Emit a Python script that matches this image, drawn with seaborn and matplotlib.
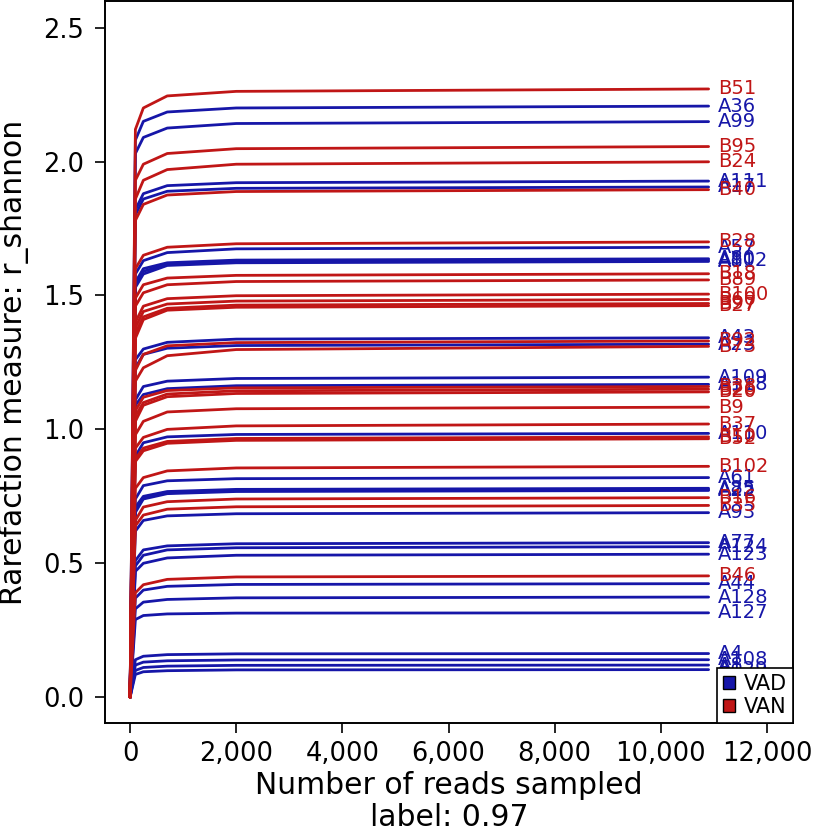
import pandas as pd
import seaborn as sns
import matplotlib.pyplot as plt
from matplotlib.patches import Patch
from matplotlib.ticker import FuncFormatter

reads = [0, 100, 250, 700, 2000, 10900]

van_names = ['B51', 'B95', 'B24', 'B40', 'B28', 'B18', 'B89', 'B100', 'B60', 'B97',
             'B27', 'B92', 'B73', 'B38', 'B26', 'B20', 'B9', 'B37', 'B10', 'B52',
             'B102', 'B16', 'B35', 'B46']
van_curves = [
    [0, 2.12, 2.20, 2.245, 2.262, 2.271],
    [0, 1.93, 1.99, 2.030, 2.048, 2.056],
    [0, 1.86, 1.93, 1.970, 1.990, 1.999],
    [0, 1.78, 1.84, 1.875, 1.888, 1.895],
    [0, 1.60, 1.65, 1.680, 1.693, 1.700],
    [0, 1.49, 1.54, 1.565, 1.575, 1.581],
    [0, 1.46, 1.51, 1.540, 1.552, 1.558],
    [0, 1.40, 1.46, 1.488, 1.499, 1.505],
    [0, 1.38, 1.44, 1.468, 1.479, 1.485],
    [0, 1.36, 1.42, 1.452, 1.464, 1.470],
    [0, 1.34, 1.41, 1.445, 1.456, 1.462],
    [0, 1.22, 1.28, 1.312, 1.324, 1.330],
    [0, 1.18, 1.23, 1.275, 1.298, 1.310],
    [0, 1.07, 1.12, 1.145, 1.155, 1.160],
    [0, 1.05, 1.10, 1.132, 1.144, 1.150],
    [0, 1.03, 1.09, 1.122, 1.134, 1.140],
    [0, 0.98, 1.03, 1.065, 1.077, 1.083],
    [0, 0.93, 0.97, 1.000, 1.013, 1.020],
    [0, 0.89, 0.93, 0.955, 0.966, 0.972],
    [0, 0.88, 0.92, 0.948, 0.959, 0.965],
    [0, 0.78, 0.82, 0.845, 0.856, 0.862],
    [0, 0.66, 0.71, 0.730, 0.740, 0.745],
    [0, 0.64, 0.68, 0.702, 0.711, 0.716],
    [0, 0.39, 0.42, 0.440, 0.449, 0.453],
]

vad_names = ['A36', 'A99', 'A111', 'A17', 'A57', 'A80', 'A102', 'A81', 'A43', 'A23',
             'A109', 'A118', 'A110', 'A61', 'A85', 'A25', 'A22', 'A93', 'A77', 'A124',
             'A123', 'A44', 'A128', 'A127', 'A4', 'A108', 'A8', 'A129']
vad_curves = [
    [0, 2.08, 2.15, 2.185, 2.200, 2.207],
    [0, 2.03, 2.09, 2.125, 2.142, 2.149],
    [0, 1.82, 1.88, 1.910, 1.921, 1.927],
    [0, 1.80, 1.86, 1.889, 1.900, 1.905],
    [0, 1.58, 1.63, 1.660, 1.674, 1.680],
    [0, 1.55, 1.60, 1.622, 1.632, 1.637],
    [0, 1.54, 1.59, 1.617, 1.627, 1.632],
    [0, 1.53, 1.58, 1.612, 1.622, 1.627],
    [0, 1.26, 1.30, 1.325, 1.337, 1.342],
    [0, 1.23, 1.28, 1.303, 1.313, 1.318],
    [0, 1.11, 1.16, 1.180, 1.190, 1.195],
    [0, 1.09, 1.13, 1.152, 1.163, 1.168],
    [0, 0.90, 0.95, 0.972, 0.981, 0.985],
    [0, 0.74, 0.79, 0.808, 0.816, 0.820],
    [0, 0.71, 0.75, 0.768, 0.776, 0.780],
    [0, 0.70, 0.745, 0.763, 0.771, 0.775],
    [0, 0.69, 0.74, 0.760, 0.768, 0.772],
    [0, 0.62, 0.66, 0.677, 0.685, 0.689],
    [0, 0.51, 0.55, 0.565, 0.573, 0.577],
    [0, 0.49, 0.53, 0.550, 0.558, 0.562],
    [0, 0.47, 0.50, 0.520, 0.530, 0.534],
    [0, 0.37, 0.40, 0.414, 0.421, 0.424],
    [0, 0.33, 0.355, 0.365, 0.371, 0.374],
    [0, 0.29, 0.305, 0.311, 0.314, 0.315],
    [0, 0.14, 0.153, 0.159, 0.162, 0.163],
    [0, 0.12, 0.131, 0.136, 0.139, 0.140],
    [0, 0.10, 0.111, 0.116, 0.119, 0.120],
    [0, 0.085, 0.095, 0.099, 0.102, 0.103],
]

colors = {'VAD': '#1616a8', 'VAN': '#c01616'}

rows = []
for grp, names, curves in [('VAD', vad_names, vad_curves), ('VAN', van_names, van_curves)]:
    for n, c in zip(names, curves):
        for x, y in zip(reads, c):
            rows.append({'sample': n, 'group': grp, 'reads': x, 'value': y})
df = pd.DataFrame(rows)

sns.set_style('ticks')
plt.rcParams['font.family'] = ['DejaVu Sans']
plt.rcParams['text.color'] = 'black'
plt.rcParams['axes.labelcolor'] = 'black'
plt.rcParams['xtick.color'] = 'black'
plt.rcParams['ytick.color'] = 'black'

fig = plt.figure(figsize=(8.15, 8.38), dpi=100)
ax = fig.add_axes([0.129, 0.137, 0.844, 0.862])

sns.lineplot(data=df, x='reads', y='value', hue='group', units='sample',
             estimator=None, palette=colors, hue_order=['VAD', 'VAN'],
             linewidth=2, legend=False, ax=ax, sort=False)
for ln in ax.get_lines():
    ln.set_solid_joinstyle('round')

for grp, names, curves in [('VAD', vad_names, vad_curves), ('VAN', van_names, van_curves)]:
    for n, c in zip(names, curves):
        ax.text(reads[-1] + 170, c[-1], n, color=colors[grp], fontsize=14,
                va='center', ha='left')

ax.set_xlim(-470, 12490)
ax.set_ylim(-0.097, 2.60)
ax.set_xticks([0, 2000, 4000, 6000, 8000, 10000, 12000])
ax.set_yticks([0.0, 0.5, 1.0, 1.5, 2.0, 2.5])
ax.xaxis.set_major_formatter(FuncFormatter(lambda v, p: f'{int(v):,}'))
ax.yaxis.set_major_formatter(FuncFormatter(lambda v, p: f'{v:.1f}'))
ax.tick_params(labelsize=18.5, length=7, width=1.2, direction='out', pad=6)
ax.tick_params(axis='y', pad=8)
for s in ax.spines.values():
    s.set_visible(True)
    s.set_linewidth(1.4)
    s.set_color('black')

ax.set_xlabel('Number of reads sampled\nlabel: 0.97', fontsize=21.5, linespacing=1.1,
              labelpad=3)
ax.set_ylabel('Rarefaction measure: r_shannon', fontsize=21.5, labelpad=10)

handles = [Patch(facecolor=colors[g], edgecolor='black', label=g) for g in ['VAD', 'VAN']]
leg = ax.legend(handles=handles, loc='lower right', borderaxespad=0, fontsize=15,
                handlelength=0.6, handleheight=0.6, handletextpad=0.4,
                fancybox=False, framealpha=1, borderpad=0.3, labelspacing=0.15)
leg.get_frame().set_edgecolor('black')
leg.get_frame().set_linewidth(1.2)

fig.savefig('out.png', dpi=100)
